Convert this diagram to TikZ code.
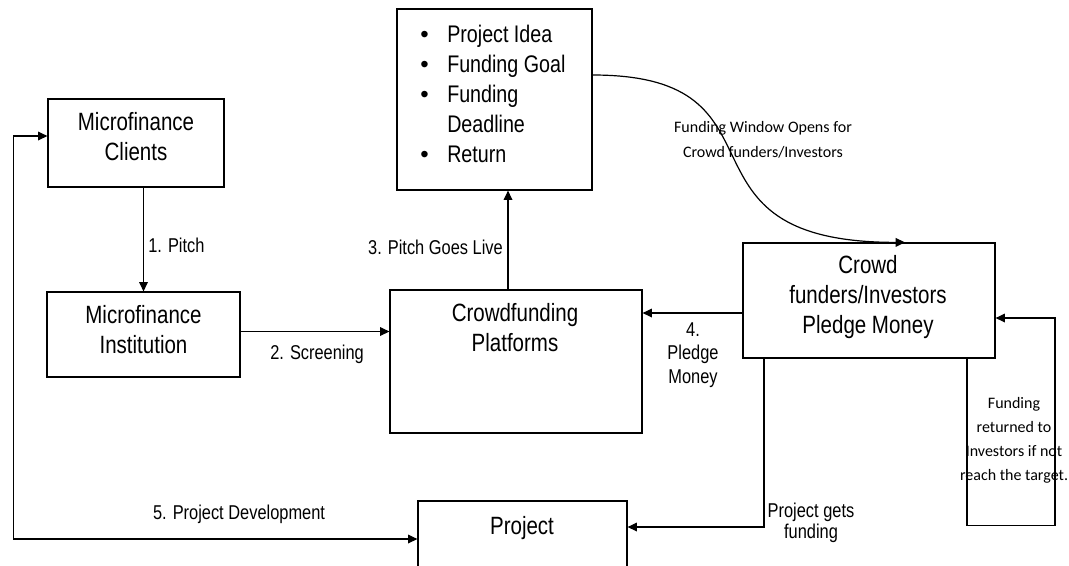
\documentclass[tikz,border=0pt]{standalone}
\usepackage{fontspec}
\setmainfont{Liberation Sans}[FakeStretch=0.82]
\newfontfamily\calibfont{Carlito}
\newfontfamily\bulletfont{Liberation Sans}
\usetikzlibrary{arrows.meta}

\newcommand\bul{\makebox[21.75pt][l]{\hspace{1.5pt}{\bulletfont\textbullet}}}

\begin{document}
\begin{tikzpicture}[x=0.75pt,y=-0.75pt,
  box/.style={draw, line width=0.9pt, inner sep=0pt},
  boxtext/.style={align=center, inner sep=0pt, font=\fontsize{18.75}{22.5}\selectfont},
  lbl/.style={align=center, inner sep=0pt, font=\fontsize{15}{17.6}\selectfont},
  clbl/.style={align=center, inner sep=0pt, font=\calibfont\fontsize{12}{18.75}\selectfont},
  conn/.style={line width=0.9pt},
  tip/.tip={Triangle[length=7pt,width=6.5pt]},
  arr/.style={conn, -tip},
  arrboth/.style={conn, tip-tip},
  ]
\clip (0,0) rectangle (1069,565);
\fill[white] (0,0) rectangle (1069,565);

% boxes
\node[box, minimum width=132pt, minimum height=66pt] (mc) at (136,143) {};
\node[box, minimum width=144.75pt, minimum height=63.75pt] (mi) at (143.5,334.5) {};
\node[box, minimum width=189pt, minimum height=107.25pt] (cp) at (516,361.5) {};
\node[box, minimum width=146.25pt, minimum height=135.75pt] (pi) at (494.5,99.5) {};
\node[box, minimum width=189pt, minimum height=86.25pt] (cf) at (869,300.5) {};
\node[box, minimum width=156.75pt, minimum height=51.75pt] (pj) at (522.5,535.5) {};

% box texts
\node[boxtext] (mct) at (136,136.5) {Microfinance\\Clients};
\node[boxtext] (mit) at (143.5,330) {Microfinance\\Institution};
\node[boxtext] (cpt) at (515,328) {Crowdfunding\\Platforms};
\node[boxtext] (cft) at (868,297.5) {Crowd\\funders/Investors\\Pledge Money};
\node[boxtext] (pjt) at (522,528.5) {Project};
\node[anchor=north west, inner sep=0pt, font=\fontsize{18}{22.5}\selectfont] (pit) at (418,21)
  {\begin{tabular}{@{}l@{}l@{}}
   \bul & Project Idea\\
   \bul & Funding Goal\\
   \bul & Funding\\
        & Deadline\\
   \bul & Return
   \end{tabular}};

% 1. pitch
\draw[arr] (mc.south -| mi.north) -- (mi.north);
\node[lbl, anchor=west] (l1) at (148,245) {1. Pitch};

% 2. screening
\draw[arr] ([yshift=2.25pt]mi.east) -- ([yshift=2.25pt]mi.east -| cp.west);
\node[lbl, anchor=west] (l2) at (270,354) {2. Screening};

% 3. pitch goes live
\draw[arr] ([xshift=-6pt]cp.north) -- ([xshift=-6pt]cp.north |- pi.south);
\node[lbl, anchor=east] (l3) at (503,247) {3. Pitch Goes Live};

% funding window
\draw[arr] ([yshift=18.375pt]pi.east) .. controls +(208,0) and +(-245,0) .. ([xshift=27pt]cf.north);
\node[clbl] (l6) at (763,139.5) {Funding Window Opens for\\Crowd funders/Investors};

% 4. pledge money
\draw[arr] ([yshift=-9.375pt]cf.west) -- ([yshift=-9.375pt]cf.west -| cp.east);
\node[lbl] (l4) at (693,355) {4.\\Pledge\\Money};

% project gets funding
\draw[arr] ([xshift=-78.75pt]cf.south) |- ([yshift=6.375pt]pj.east);
\node[lbl, font=\fontsize{15}{15.75}\selectfont] (l7) at (811,522.5) {Project gets\\funding};

% refund loop
\draw[arr] ([xshift=73.5pt]cf.south) -- ++(0,167) -- ++(88,0) |- ([yshift=-13.125pt]cf.east);
\node[clbl, font=\calibfont\fontsize{12}{18}\selectfont] (l8) at (1014,440)
  {Funding\\returned to\\Investors if not\\reach the target.};

% 5. project development
\draw[arrboth] ([yshift=-2.625pt]pj.west) -| ([xshift=-25.5pt,yshift=5.25pt]mc.west) -- ([yshift=5.25pt]mc.west);
\node[lbl] (l5) at (239,514) {5. Project Development};
\end{tikzpicture}
\end{document}
